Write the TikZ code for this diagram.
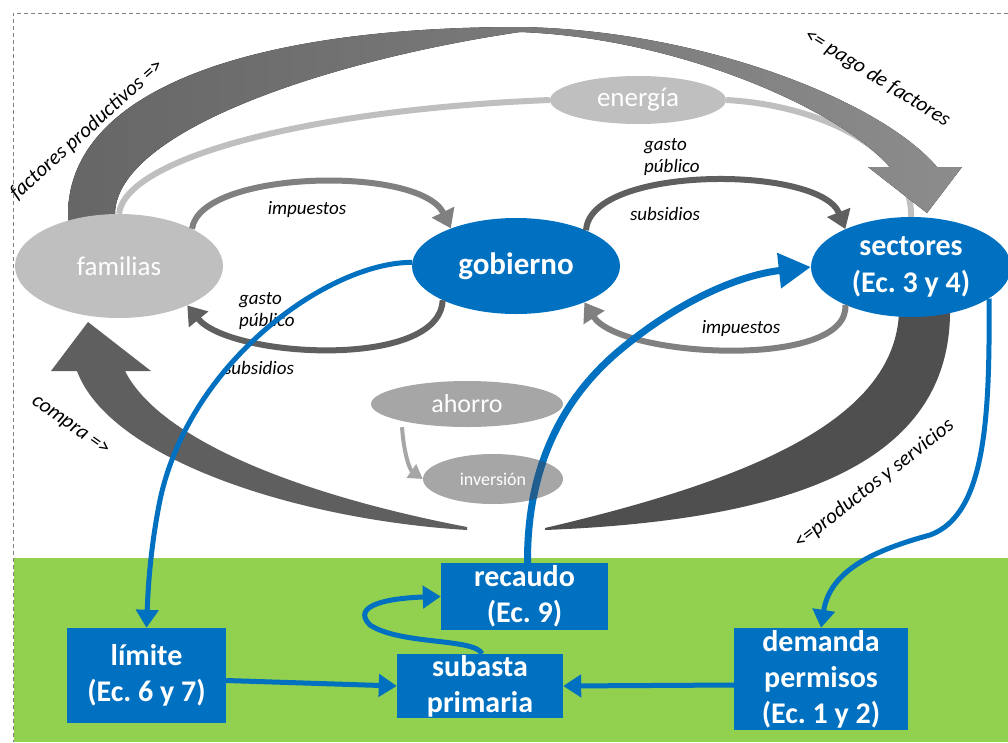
\documentclass[tikz,border=0pt]{standalone}
\usepackage{fontspec}
\setmainfont{Carlito}
\usetikzlibrary{shapes.geometric,arrows.meta,backgrounds}
\frenchspacing
\definecolor{bl}{HTML}{0070C0}
\definecolor{dkb}{HTML}{1F5E8E}
\definecolor{gr}{HTML}{92D050}
\definecolor{lg}{HTML}{BFBFBF}
\definecolor{mg}{HTML}{A6A6A6}
\definecolor{g80}{HTML}{808080}
\definecolor{g60}{HTML}{5F5F5F}
\definecolor{g4d}{HTML}{4F4F4F}
\definecolor{g66}{HTML}{666666}
\definecolor{g8c}{HTML}{8C8C8C}
\begin{document}
\frenchspacing
\begin{tikzpicture}[x=1pt,y=-1pt,
  ell/.style={ellipse, inner sep=0pt, text=white, align=center},
  box/.style={rectangle, fill=bl, inner sep=0pt, text=white, align=center,
              font=\fontsize{30}{36}\selectfont\bfseries},
  lbl/.style={font=\fontsize{19}{22}\selectfont\itshape, inner sep=0pt},
  rlbl/.style={font=\fontsize{21}{25}\selectfont\itshape, inner sep=0pt},
  garr/.style={line width=6pt, -{Triangle[length=18pt,width=24pt]}},
  bline/.style={bl, line width=5pt, -{Triangle[length=18pt,width=22pt]}},
]
\useasboundingbox (0,0) rectangle (1008,742);

% ---------- nodes ----------
\node[ell, fill=lg, minimum width=208pt, minimum height=104pt,
      font=\fontsize{27}{32}\selectfont] (fam) at (119,266) {familias};
\node[ell, fill=bl, minimum width=208pt, minimum height=96pt,
      font=\fontsize{31}{37}\selectfont\bfseries] (gob) at (516,266) {gobierno};
\node[ell, fill=bl, minimum width=200pt, minimum height=100pt,
      font=\fontsize{30}{37}\selectfont\bfseries] (sec) at (911,267) {sectores\\(Ec. 3 y 4)};
\node[ell, fill=lg, minimum width=176pt, minimum height=48pt,
      font=\fontsize{27}{32}\selectfont] (ene) at (638,100) {energía};
\node[ell, fill=mg, minimum width=192pt, minimum height=46pt,
      font=\fontsize{26}{31}\selectfont] (aho) at (467,404) {ahorro};
\node[ell, fill=mg, minimum width=140pt, minimum height=50pt,
      font=\fontsize{18}{22}\selectfont] (inv) at (493,479) {inversión};

\node[box, minimum width=167pt, minimum height=67pt] (rec) at (524.5,596.5) {recaudo\\(Ec. 9)};
\node[box, minimum width=159pt, minimum height=95pt] (lim) at (146.5,675.5) {límite\\(Ec. 6 y 7)};
\node[box, minimum width=166pt, minimum height=64pt] (sub) at (480,686) {subasta\\primaria};
\node[box, minimum width=174pt, minimum height=102pt] (dem) at (821,679) {demanda\\permisos\\(Ec. 1 y 2)};

% ---------- labels ----------
\node[rlbl, rotate=42] (lfp) at (87,130) {factores productivos =>};
\node[rlbl, rotate=-32] (lpf) at (877,78) {<= pago de factores};
\node[rlbl, rotate=-35] (lco) at (70,426) {compra =>};
\node[rlbl, rotate=38] (lps) at (874,484) {<=productos y servicios};
\node[lbl] (li1) at (307,209) {impuestos};
\node[lbl, align=left, anchor=west] (lg1) at (239,311) {gasto\\público};
\node[lbl] (ls1) at (259,368) {subsidios};
\node[lbl, align=left, anchor=west] (lg2) at (644,157) {gasto\\público};
\node[lbl] (ls2) at (665,214) {subsidios};
\node[lbl] (li2) at (741,328) {impuestos};

% ---------- background ----------
\begin{scope}[on background layer]
  \fill[gr] (14,558) rectangle (1008,742);
  \draw[g80, line width=1pt, dash pattern=on 4pt off 3pt] (1008,13) -- (13,13) -- (13,742);
  % energy line
  \draw[lg, line width=6pt] (fam.north) .. controls (125,160) and (300,110) .. (ene.west);
  \draw[lg, line width=6pt] (ene.east) .. controls (820,105) and (913,150) .. (sec.north);
  % factores productivos / pago de factores band
  \fill[left color=g66, right color=g8c]
    (68,224) -- (68,213) .. controls (70,90) and (250,27) .. (520,27)
    .. controls (700,30) and (880,100) .. (937,167) -- (962,167) -- (927,213)
    -- (868,167) -- (890,167) .. controls (840,110) and (680,38) .. (520,32)
    .. controls (330,60) and (118,130) .. (115,213) -- (115,224) -- cycle;
  % compra band
  \fill[g60] (88,322) -- (151,371) -- (125,371)
    .. controls (160,440) and (300,495) .. (467,527) -- (467,530)
    .. controls (300,520) and (110,460) .. (77,371) -- (51,371) -- cycle;
  % productos y servicios band
  \fill[g4d] (899,308) -- (950,308) .. controls (952,460) and (800,520) .. (545,530)
    -- (545,528) .. controls (750,480) and (895,420) .. (899,312) -- cycle;
\end{scope}

% ---------- gray flows ----------
\draw[garr, g80] (fam.27) .. controls (200,170) and (420,165) .. (gob.150);
\draw[garr, g60] (gob.-155) .. controls (440,370) and (230,358) .. (fam.-30);
\draw[garr, g60] (gob.27) .. controls (590,165) and (820,165) .. (sec.150);
\draw[garr, g80] (sec.-150) .. controls (850,370) and (620,358) .. (gob.-28);
\draw[mg, line width=4pt, -{Triangle[length=14pt,width=16pt]}]
  ([xshift=-65pt]aho.south) .. controls (404,455) and (410,470) .. (inv.west);

% ---------- blue flows ----------
\draw[bline] (gob.178) .. controls (330,262) and (190,360) .. (160,500)
  .. controls (150,550) and (148,590) .. (lim.north);
\draw[bl, line width=7pt, -{Triangle[length=32pt,width=34pt]}]
  ([xshift=3pt]rec.north) .. controls (527,470) and (560,400) .. (620,350)
  .. controls (680,300) and (740,275) .. (sec.west);
\begin{scope}
  \clip (inv.center) ellipse [x radius=70pt, y radius=25pt];
  \draw[dkb, line width=7pt]
    ([xshift=3pt]rec.north) .. controls (527,470) and (560,400) .. (620,350)
    .. controls (680,300) and (740,275) .. (sec.west);
\end{scope}
\draw[bline] (sec.-22) .. controls (990,420) and (985,515) .. (930,535)
  .. controls (875,550) and (830,570) .. (dem.north);
\draw[bline] ([yshift=-5pt]lim.east) -- (sub.west);
\draw[bline] ([yshift=-6pt]dem.west) -- (sub.east);
\draw[bline] ([xshift=2pt]sub.north) .. controls (475,638) and (400,645) .. (370,625)
  .. controls (350,605) and (390,598) .. (rec.west);
\end{tikzpicture}
\end{document}
